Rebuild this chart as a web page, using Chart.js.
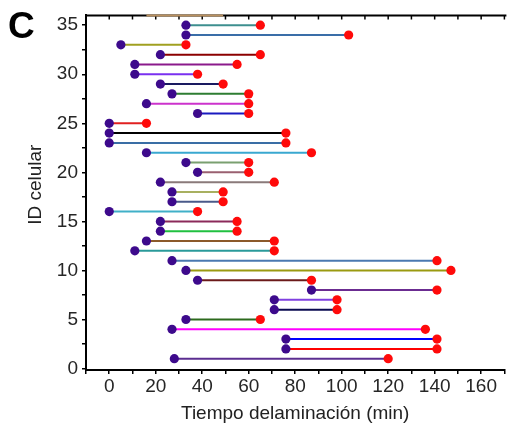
<!DOCTYPE html>
<html><head><meta charset="utf-8">
<script src="https://cdn.jsdelivr.net/npm/chart.js@4"></script>
<style>
html,body{margin:0;padding:0;background:#fff;overflow:hidden}
#wrap{position:relative;width:509px;height:432px}
#lbl{position:absolute;left:8px;top:5px;font:bold 37px "Liberation Sans",Arial,sans-serif;color:#000}
</style></head><body>
<div id="wrap"><canvas id="c" width="509" height="432"></canvas><div id="lbl">C</div></div>
<script>
const cellIds    = [1,2,3,4,5,6,7,8,9,10,11,12,13,14,15,16,17,18,19,20,21,22,23,24,25,26,27,28,29,30,31,32,33,34,35,36];
const startTimes = [28,76,76,27,33,71,71,87,38,33,27,11,16,22,22,0,27,27,22,38,33,16,0,0,0,38,16,27,22,11,11,22,5,33,33,16];
const endTimes   = [120,141,141,136,65,98,98,141,87,147,141,71,71,55,55,38,49,49,71,60,60,87,76,76,16,60,60,60,49,38,55,65,33,103,65,49];
const lineColors = ['#5b2d90','#ff0000','#0000ff','#ff00ff','#2d6a1e','#0a0a50','#8040e0','#6b2c91','#6b1a1a','#9a9a10',
                    '#4a78b0','#2a9a9a','#8b5a2b','#20c040','#8b2a5a','#40b0c8','#4a5a8a','#a8b060','#8a7a7a','#9a6070',
                    '#7aa070','#3aa8d0','#3a6ea5','#000000','#e02020','#1a1ac0','#cc33cc','#2e7d32','#1a1a60','#7a30f0',
                    '#8b1a8b','#8b0000','#a0a020','#3a6ea8','#3e8f8f','#b89060'];
const xTickLabels = [0,20,40,60,80,100,120,140,160];
const yTickLabels = [0,5,10,15,20,25,30,35];
const xTitle = 'Tiempo delaminación (min)';
const yTitle = 'ID celular';

const START_COLOR = '#3d0a8c', END_COLOR = '#ff0a0a';
const FONT = '"Liberation Sans", Arial, sans-serif';
Chart.defaults.font.family = FONT;

const datasets = cellIds.map((id, i) => {
  const top = id === 36;
  return {
    data: [{x: startTimes[i], y: id}, {x: endTimes[i], y: id}],
    showLine: true,
    borderColor: lineColors[i],
    borderWidth: 2,
    pointRadius: top ? 0 : 4.6,
    pointHoverRadius: top ? 0 : 4.6,
    pointBorderWidth: 0,
    pointBackgroundColor: [START_COLOR, END_COLOR],
    clip: top ? 2 : 0,
    order: 36 - id
  };
});

const framePlugin = {
  id: 'frame',
  beforeDatasetsDraw(chart) {
    const {ctx, chartArea: a, scales: {x}} = chart;
    ctx.save();
    ctx.strokeStyle = '#000';
    ctx.lineWidth = 2;
    ctx.beginPath();
    ctx.moveTo(a.left - 1, a.top); ctx.lineTo(a.right + 2, a.top);
    ctx.stroke();
    ctx.lineWidth = 1.5;
    ctx.beginPath();
    x.ticks.forEach(t => {
      const px = x.getPixelForValue(t.value);
      ctx.moveTo(px, a.top); ctx.lineTo(px, a.top + 4);
    });
    ctx.stroke();
    ctx.restore();
  },
  afterDraw(chart) {
    const {ctx, chartArea: a} = chart;
    ctx.save();
    ctx.translate(36, (a.top + a.bottom) / 2 - 8);
    ctx.rotate(-Math.PI / 2);
    ctx.font = '19px ' + FONT;
    ctx.fillStyle = '#222';
    ctx.textAlign = 'center';
    ctx.textBaseline = 'middle';
    ctx.fillText(yTitle, 0, 0);
    ctx.restore();
  }
};

new Chart(document.getElementById('c'), {
  type: 'scatter',
  data: {datasets},
  plugins: [framePlugin],
  options: {
    responsive: false,
    animation: false,
    events: [],
    layout: {padding: {top: 12, right: 0, left: 0, bottom: 0}},
    plugins: {legend: {display: false}, tooltip: {enabled: false}},
    scales: {
      x: {
        type: 'linear', min: -10, max: 170,
        afterBuildTicks(s) { s.ticks = []; for (let v = -10; v <= 170; v += 10) s.ticks.push({value: v}); },
        afterFit(s) { s.height = 62; },
        ticks: {
          autoSkip: false, maxRotation: 0,
          callback: v => xTickLabels.includes(v) ? String(v) : '',
          font: {size: 19}, color: '#262626', padding: 1
        },
        grid: {display: true, drawOnChartArea: false, drawTicks: true, tickLength: 4, color: '#000', lineWidth: 1.5},
        border: {display: true, color: '#000', width: 2},
        title: {display: true, text: xTitle, font: {size: 19}, color: '#222', padding: 7}
      },
      y: {
        type: 'linear', min: -0.15, max: 36,
        afterBuildTicks(s) { s.ticks = []; for (let v = 0; v <= 35; v += 2.5) s.ticks.push({value: v}); },
        afterFit(s) { s.width = 86; },
        ticks: {
          autoSkip: false,
          callback: v => yTickLabels.includes(v) ? String(v) : '',
          font: {size: 19}, color: '#262626', padding: 4
        },
        grid: {display: true, drawOnChartArea: false, drawTicks: true, tickLength: 4, color: '#000', lineWidth: 1.5},
        border: {display: true, color: '#000', width: 2},
        title: {display: false}
      }
    }
  }
});
</script>
</body></html>
